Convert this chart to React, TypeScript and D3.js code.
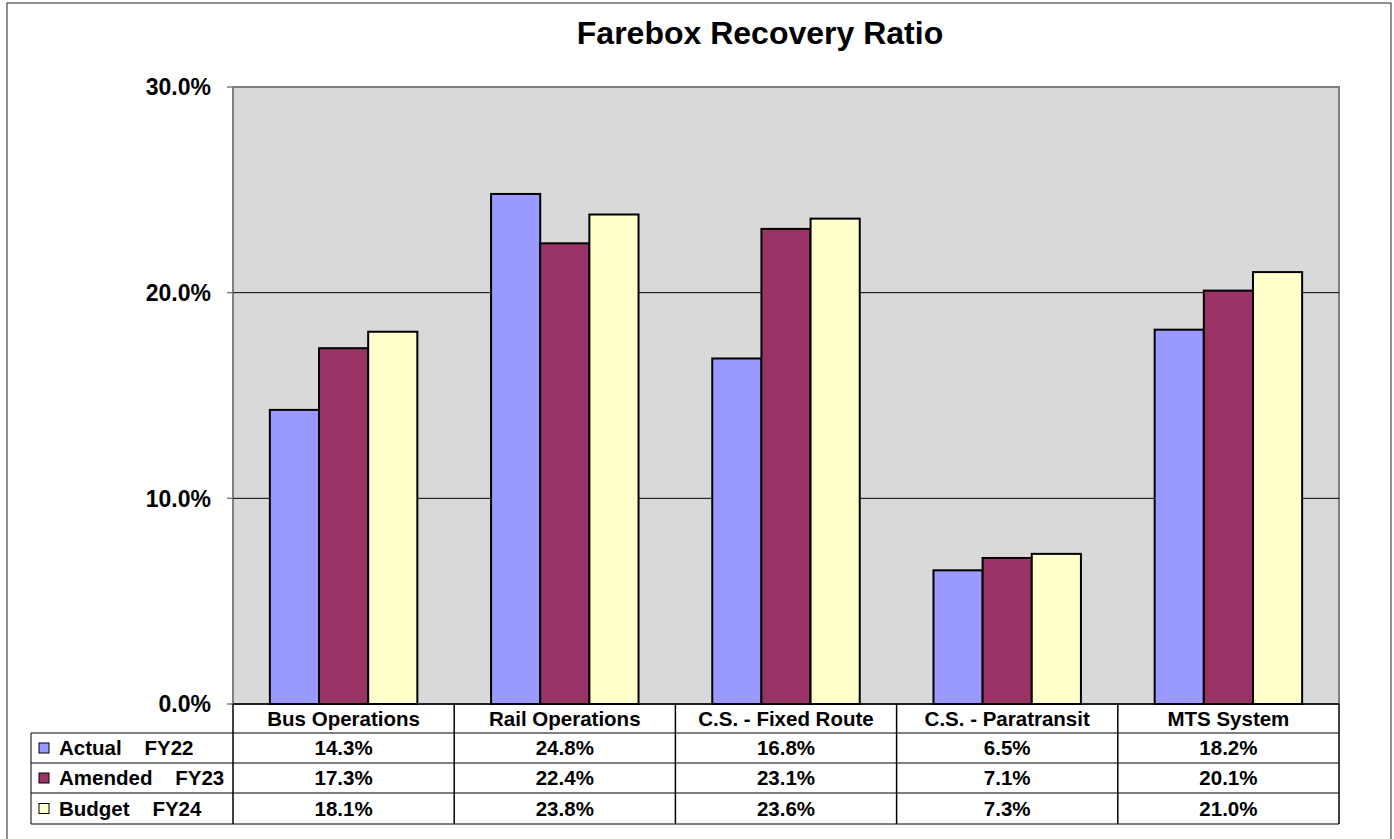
import * as d3 from "d3";

const categories = ["Bus Operations", "Rail Operations", "C.S. - Fixed Route", "C.S. - Paratransit", "MTS System"];
const seriesNames = ["Actual    FY22", "Amended    FY23", "Budget    FY24"];
const actualFY22 = [14.3, 24.8, 16.8, 6.5, 18.2];
const amendedFY23 = [17.3, 22.4, 23.1, 7.1, 20.1];
const budgetFY24 = [18.1, 23.8, 23.6, 7.3, 21.0];
const yTicks = [0, 10, 20, 30];

const COLORS = ["#9999ff", "#993366", "#ffffcc"];
const FONT = "'Liberation Sans', Arial, Helvetica, sans-serif";
const W = 1394;
const H = 839;
const PLOT = { left: 233, right: 1339, top: 87, bottom: 704 };
const TABLE = { left: 31, rows: [704, 733, 763, 793, 824] };

export default function App() {
  const series = [actualFY22, amendedFY23, budgetFY24];

  const xScale = d3.scaleBand<string>().domain(categories).range([PLOT.left, PLOT.right]);
  // 150% gap width -> 0.75 step of padding on each side
  const inner = d3
    .scaleBand<number>()
    .domain(d3.range(series.length))
    .range([0, xScale.bandwidth()])
    .paddingInner(0)
    .paddingOuter(0.75);
  const yScale = d3.scaleLinear().domain([0, 30]).range([PLOT.bottom, PLOT.top]);

  const rowMid = (i: number) => (TABLE.rows[i] + TABLE.rows[i + 1]) / 2;

  return (
    <svg width={W} height={H} style={{ position: "absolute", left: 0, top: 0, background: "#fff" }} fontFamily={FONT}>
      {/* outer frame */}
      <rect x={7} y={3} width={1384} height={860} fill="none" stroke="#222" strokeWidth={1} />

      <text x={760} y={44} textAnchor="middle" fontSize={32} fontWeight="bold">
        Farebox Recovery Ratio
      </text>

      {/* plot area */}
      <rect
        x={PLOT.left}
        y={PLOT.top}
        width={PLOT.right - PLOT.left}
        height={PLOT.bottom - PLOT.top}
        fill="#d9d9d9"
        stroke="#808080"
        strokeWidth={2}
      />
      {yTicks.slice(1, -1).map((t) => (
        <line key={t} x1={PLOT.left} x2={PLOT.right} y1={yScale(t)} y2={yScale(t)} stroke="#000" strokeWidth={1} />
      ))}
      {yTicks.map((t) => (
        <g key={t}>
          <line x1={PLOT.left - 6} x2={PLOT.left} y1={yScale(t)} y2={yScale(t)} stroke="#808080" strokeWidth={1.5} />
          <text x={211} y={yScale(t)} dy="0.36em" textAnchor="end" fontSize={23} fontWeight="bold">
            {t.toFixed(1)}%
          </text>
        </g>
      ))}

      {/* bars */}
      {categories.map((c, ci) => (
        <g key={c} transform={`translate(${xScale(c)},0)`}>
          {series.map((vals, si) => (
            <rect
              key={si}
              x={inner(si)}
              y={yScale(vals[ci])}
              width={inner.bandwidth()}
              height={yScale(0) - yScale(vals[ci])}
              fill={COLORS[si]}
              stroke="#000"
              strokeWidth={2}
            />
          ))}
        </g>
      ))}

      {/* data table */}
      <line x1={PLOT.left} x2={PLOT.right} y1={PLOT.bottom} y2={PLOT.bottom} stroke="#000" strokeWidth={1.5} />
      {TABLE.rows.slice(1).map((y) => (
        <line key={y} x1={TABLE.left} x2={PLOT.right} y1={y} y2={y} stroke="#000" strokeWidth={1} />
      ))}
      <line x1={TABLE.left} x2={TABLE.left} y1={TABLE.rows[1]} y2={TABLE.rows[4]} stroke="#000" strokeWidth={1} />
      {[...categories.map((c) => xScale(c) as number), PLOT.right].map((x) => (
        <line key={x} x1={x} x2={x} y1={TABLE.rows[0]} y2={TABLE.rows[4]} stroke="#000" strokeWidth={1.5} />
      ))}
      {categories.map((c) => (
        <text
          key={c}
          x={(xScale(c) as number) + xScale.bandwidth() / 2}
          y={rowMid(0)}
          dy="0.36em"
          textAnchor="middle"
          fontSize={20.5}
          fontWeight="bold"
        >
          {c}
        </text>
      ))}
      {series.map((vals, si) => (
        <g key={si}>
          <rect x={39} y={rowMid(si + 1) - 5} width={10} height={10} fill={COLORS[si]} stroke="#000" strokeWidth={1} />
          <text x={59} y={rowMid(si + 1)} dy="0.36em" fontSize={20.5} fontWeight="bold" style={{ whiteSpace: "pre" }}>
            {seriesNames[si]}
          </text>
          {categories.map((c, ci) => (
            <text
              key={c}
              x={(xScale(c) as number) + xScale.bandwidth() / 2}
              y={rowMid(si + 1)}
              dy="0.36em"
              textAnchor="middle"
              fontSize={20.5}
              fontWeight="bold"
            >
              {vals[ci].toFixed(1)}%
            </text>
          ))}
        </g>
      ))}
    </svg>
  );
}
